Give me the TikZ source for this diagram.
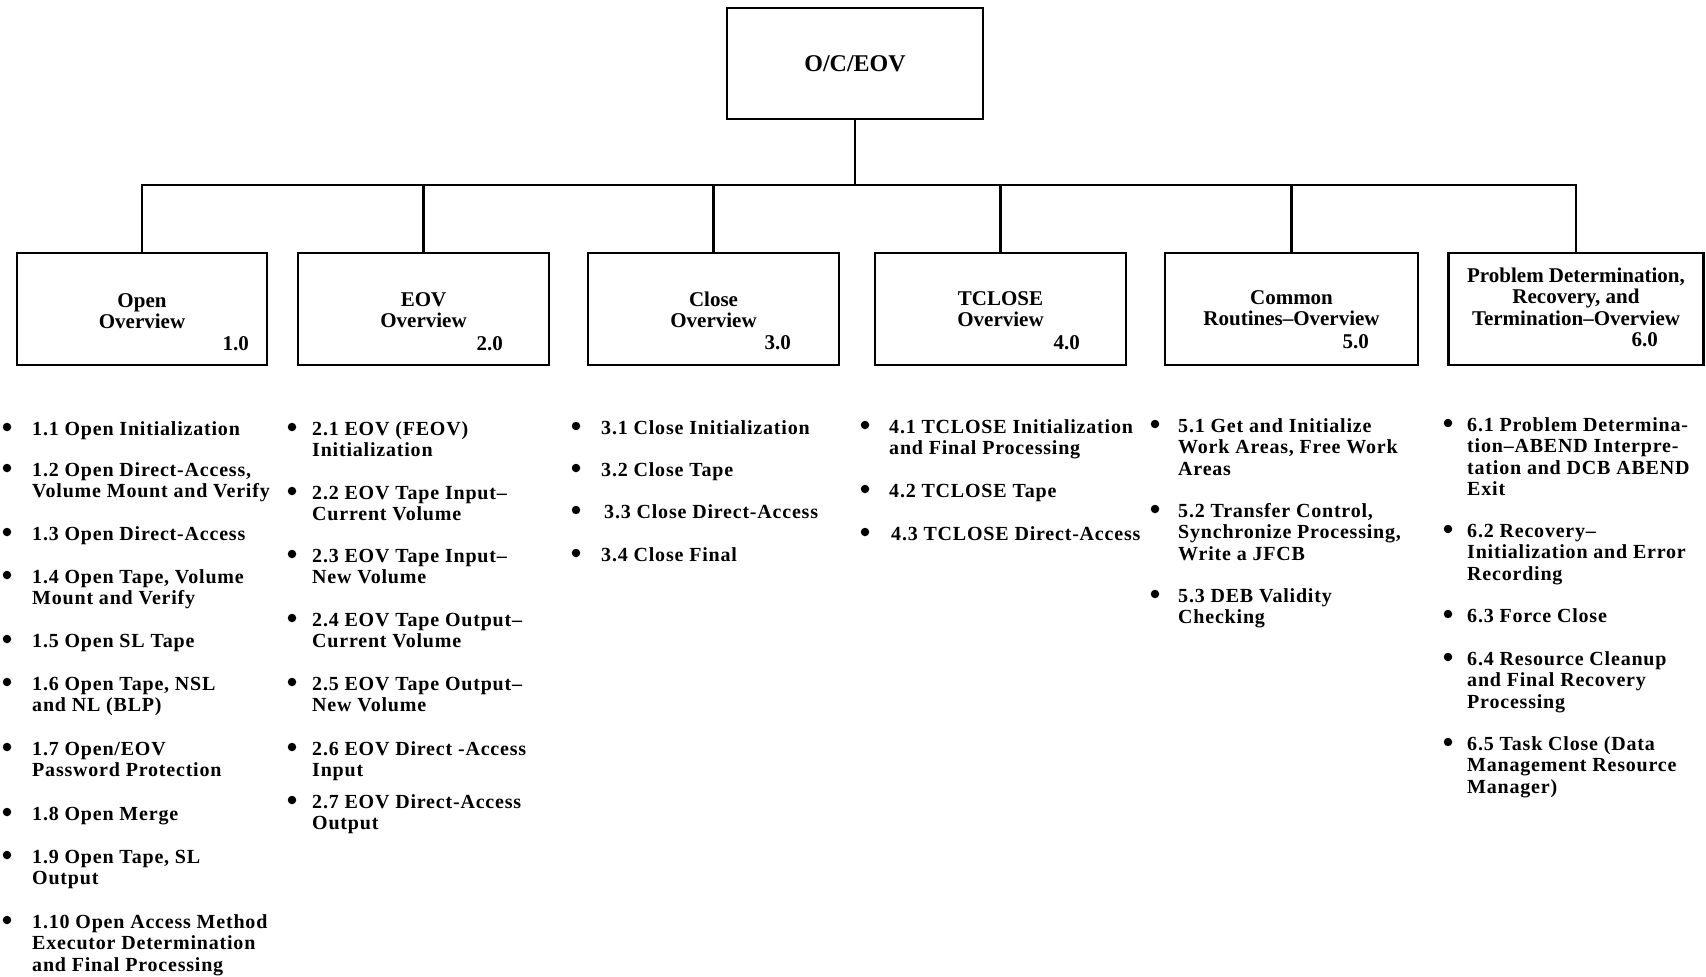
\documentclass[tikz,border=0pt]{standalone}
\usepackage{fontspec}
\setmainfont{Liberation Serif}
\newfontfamily\itemfont[LetterSpace=4]{Liberation Serif}
% multi-line text whose baseline is that of its first line
\newcommand\ml[2][l]{\begin{tabular}[t]{@{}#1@{}}#2\end{tabular}}
\tikzset{
  box/.style={draw, line width=2.7pt, minimum height=112pt, inner sep=0pt},
  ttl/.style={anchor=base, inner sep=0pt, font=\bfseries\fontsize{21}{21.5}\selectfont},
  num/.style={anchor=base east, inner sep=0pt, font=\bfseries\fontsize{21}{21.5}\selectfont},
  itm/.style={anchor=base west, inner sep=0pt, font=\itemfont\bfseries\fontsize{20}{21.5}\selectfont},
  dot/.style={circle, fill, inner sep=0pt, minimum size=8.5pt},
  link/.style={line width=2.6pt},
}
% bullet point: name, bullet x, text x, first baseline, text
\newcommand\bulletitem[5]{%
  \node[dot] (#1d) at (#2,#4-8) {};
  \node[itm] (#1) at (#3,#4) {\ml{#5}};}
\begin{document}
\begin{tikzpicture}[x=1pt,y=-1pt]
\useasboundingbox (0,0) rectangle (1706,977);

% top of the hierarchy
\node[box, minimum width=256pt, minimum height=111pt] (top) at (855,63.5) {};
\node[anchor=base, inner sep=0pt, font=\bfseries\fontsize{24}{24}\selectfont] (toptxt) at (855,71) {O/C/EOV};

% second level
\node[box, minimum width=250pt] (b1) at (142,309) {};
\node[box, minimum width=251pt] (b2) at (423.5,309) {};
\node[box, minimum width=251pt] (b3) at (713.5,309) {};
\node[box, minimum width=251pt] (b4) at (1000.5,309) {};
\node[box, minimum width=253pt] (b5) at (1291.5,309) {};
\node[box, minimum width=255pt] (b6) at (1576,309) {};

\node[ttl] (b1t) at (142,307) {\ml[c]{Open\\Overview}};
\node[num] (b1n) at (249,350) {1.0};
\node[ttl] (b2t) at (423.5,306) {\ml[c]{EOV\\Overview}};
\node[num] (b2n) at (503,350) {2.0};
\node[ttl] (b3t) at (713.5,306) {\ml[c]{Close\\Overview}};
\node[num] (b3n) at (791,349) {3.0};
\node[ttl] (b4t) at (1000.5,305) {\ml[c]{TCLOSE\\Overview}};
\node[num] (b4n) at (1080,349) {4.0};
\node[ttl] (b5t) at (1291.5,304) {\ml[c]{Common\\Routines–Overview}};
\node[num] (b5n) at (1369,348) {5.0};
\node[ttl] (b6t) at (1576,282) {\ml[c]{Problem Determination,\\Recovery, and\\Termination–Overview}};
\node[num] (b6n) at (1658,346) {6.0};

% tree connectors
\coordinate (bus) at (855,185);
\draw[link] (top.south) -- (bus);
\draw[link] (b1.north) |- (bus) -| (b6.north);
\foreach \b in {b2,b3,b4,b5} \draw[link] (\b.north) -- (\b.north |- bus);

% 1.x
\bulletitem{i11}{7}{32}{435}{1.1 Open Initialization}
\bulletitem{i12}{7}{32}{476}{1.2 Open Direct-Access,\\Volume Mount and Verify}
\bulletitem{i13}{7}{32}{540}{1.3 Open Direct-Access}
\bulletitem{i14}{7}{32}{583}{1.4 Open Tape, Volume\\Mount and Verify}
\bulletitem{i15}{7}{32}{647}{1.5 Open SL Tape}
\bulletitem{i16}{7}{32}{690}{1.6 Open Tape, NSL\\and NL (BLP)}
\bulletitem{i17}{7}{32}{755}{1.7 Open/EOV\\Password Protection}
\bulletitem{i18}{7}{32}{820}{1.8 Open Merge}
\bulletitem{i19}{7}{32}{863}{1.9 Open Tape, SL\\Output}
\bulletitem{i110}{7}{32}{928}{1.10 Open Access Method\\Executor Determination\\and Final Processing}

% 2.x
\bulletitem{i21}{292}{312}{435}{2.1 EOV (FEOV)\\Initialization}
\bulletitem{i22}{292}{312}{499}{2.2 EOV Tape Input–\\Current Volume}
\bulletitem{i23}{292}{312}{562}{2.3 EOV Tape Input–\\New Volume}
\bulletitem{i24}{292}{312}{626}{2.4 EOV Tape Output–\\Current Volume}
\bulletitem{i25}{292}{312}{690}{2.5 EOV Tape Output–\\New Volume}
\bulletitem{i26}{292}{312}{755}{2.6 EOV Direct -Access\\Input}
\bulletitem{i27}{292}{312}{808}{2.7 EOV Direct-Access\\Output}

% 3.x
\bulletitem{i31}{576}{601}{434}{3.1 Close Initialization}
\bulletitem{i32}{576}{601}{476}{3.2 Close Tape}
\bulletitem{i33}{576}{604}{518}{3.3 Close Direct-Access}
\bulletitem{i34}{576}{601}{561}{3.4 Close Final}

% 4.x
\bulletitem{i41}{865}{889}{433}{4.1 TCLOSE Initialization\\and Final Processing}
\bulletitem{i42}{865}{889}{497}{4.2 TCLOSE Tape}
\bulletitem{i43}{865}{891}{540}{4.3 TCLOSE Direct-Access}

% 5.x
\bulletitem{i51}{1155}{1178}{432}{5.1 Get and Initialize\\Work Areas, Free Work\\Areas}
\bulletitem{i52}{1155}{1178}{517}{5.2 Transfer Control,\\Synchronize Processing,\\Write a JFCB}
\bulletitem{i53}{1155}{1178}{602}{5.3 DEB Validity\\Checking}

% 6.x
\bulletitem{i61}{1448}{1467}{431}{6.1 Problem Determina-\\tion–ABEND Interpre-\\tation and DCB ABEND\\Exit}
\bulletitem{i62}{1448}{1467}{537}{6.2 Recovery–\\Initialization and Error\\Recording}
\bulletitem{i63}{1448}{1467}{622}{6.3 Force Close}
\bulletitem{i64}{1448}{1467}{665}{6.4 Resource Cleanup\\and Final Recovery\\Processing}
\bulletitem{i65}{1448}{1467}{750}{6.5 Task Close (Data\\Management Resource\\Manager)}
\end{tikzpicture}
\end{document}
